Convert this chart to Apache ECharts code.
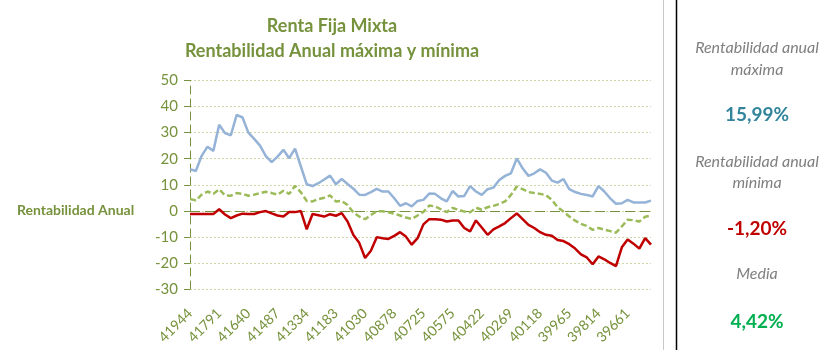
<!DOCTYPE html>
<html>
<head>
<meta charset="utf-8">
<script src="https://cdn.jsdelivr.net/npm/echarts@6/dist/echarts.min.js"></script>
<style>
html,body{margin:0;padding:0;background:#fff;}
#c{width:833px;height:350px;}
</style>
</head>
<body>
<div id="c"></div>
<script>
var categories = [41944,41913,41883,41852,41821,41791,41760,41730,41699,41671,
41640,41609,41579,41548,41518,41487,41456,41426,41395,41365,
41334,41306,41275,41244,41214,41183,41153,41122,41091,41061,
41030,41000,40969,40940,40909,40878,40848,40817,40787,40756,
40725,40695,40664,40634,40603,40575,40544,40513,40483,40452,
40422,40391,40360,40330,40299,40269,40238,40210,40179,40148,
40118,40087,40057,40026,39995,39965,39934,39904,39873,39845,
39814,39783,39753,39722,39692,39661,39630,39600,39569,39539];

var maxima = [16.0,15.3,21.1,24.6,23.0,33.0,29.8,29.0,36.8,35.8,
30.0,27.6,25.0,21.0,18.7,20.8,23.4,20.2,23.9,17.0,
10.2,9.5,10.6,12.0,13.5,10.2,12.2,10.3,8.5,6.2,
6.1,7.2,8.4,7.4,7.4,4.8,1.9,2.9,1.7,3.8,
4.2,6.6,6.5,4.8,3.6,7.6,5.5,5.7,9.5,7.4,
6.1,8.3,8.9,11.8,13.4,14.4,20.1,16.3,13.4,14.4,
15.9,14.6,11.6,10.8,12.2,8.3,7.2,6.5,6.1,5.5,
9.5,7.4,4.8,2.7,2.9,4.2,3.2,3.2,3.2,3.9];

var media = [4.5,4.0,6.2,7.4,6.5,8.3,5.9,5.8,6.8,6.5,
5.8,6.2,6.8,7.3,6.8,6.2,7.7,6.5,9.6,7.1,
3.8,3.6,4.5,5.0,5.9,3.6,3.8,2.2,-0.6,-2.2,
-3.2,-1.6,-0.2,-0.2,-0.6,-1.1,-1.8,-2.6,-3.1,-1.8,
-0.4,2.0,1.7,0.6,-0.5,1.1,0.4,-0.3,-0.6,1.2,
0.4,1.4,1.9,2.6,3.6,6.1,9.3,8.3,7.2,6.8,
6.5,6.0,4.2,1.4,-0.3,-2.2,-3.8,-5.0,-5.8,-7.3,
-6.6,-7.2,-7.8,-8.4,-6.0,-3.4,-3.6,-4.1,-2.3,-1.8];

var minima = [-1.2,-1.2,-1.2,-1.2,-1.2,0.6,-1.4,-2.8,-1.8,-1.1,
-1.2,-1.2,-0.5,-0.1,-1.0,-1.8,-2.2,-0.5,-0.5,-0.1,
-7.1,-1.2,-1.7,-2.2,-1.3,-1.9,-0.9,-4.1,-9.3,-12.3,
-18.1,-15.3,-10.1,-10.5,-10.8,-9.6,-8.2,-9.9,-13.0,-10.5,
-5.2,-3.2,-3.2,-3.4,-4.1,-3.7,-3.7,-6.6,-7.9,-3.7,
-6.4,-9.2,-7.1,-6.0,-4.7,-2.8,-1.0,-3.2,-5.4,-6.6,
-8.2,-9.2,-9.6,-11.2,-11.6,-12.8,-14.5,-16.7,-17.9,-20.5,
-17.5,-18.6,-20.0,-21.2,-14.0,-11.0,-12.6,-14.5,-10.5,-13.0];

var titleLines = ['Renta Fija Mixta', 'Rentabilidad Anual máxima y mínima'];
var yTitle = 'Rentabilidad Anual';
var panelMaxLabel = ['Rentabilidad anual', 'máxima'];
var panelMaxValue = '15,99%';
var panelMinLabel = ['Rentabilidad anual', 'mínima'];
var panelMinValue = '-1,20%';
var panelMeanLabel = 'Media';
var panelMeanValue = '4,42%';

var FONT = 'Lato';
var OLIVE = '#76923C';
var GREY = '#7F7F7F';

var chart = echarts.init(document.getElementById('c'), null, {renderer: 'canvas'});

function panelText(txt, y, size, color, bold, italic) {
  return {
    type: 'text', x: 757, y: y,
    style: {
      text: txt, x: 0, y: 0, align: 'center', verticalAlign: 'middle',
      fill: color, font: (italic ? 'italic ' : '') + (bold ? 'bold ' : '') + size + 'px ' + FONT
    }
  };
}

var option = {
  backgroundColor: '#ffffff',
  animation: false,
  textStyle: {fontFamily: FONT},
  title: {
    text: titleLines.join('\n'),
    left: 327, top: 9, textAlign: 'center',
    textStyle: {color: OLIVE, fontWeight: 'bold', fontSize: 18, fontFamily: FONT, lineHeight: 25}
  },
  grid: {left: 190, right: 182, top: 80.5, bottom: 61, containLabel: false},
  xAxis: {
    type: 'category',
    data: categories,
    boundaryGap: false,
    axisLine: {show: false},
    axisTick: {show: false},
    axisLabel: {
      interval: 4, rotate: 45, margin: 22,
      color: OLIVE, fontSize: 14, fontFamily: FONT
    },
    splitLine: {show: false}
  },
  yAxis: {
    type: 'value',
    min: -30, max: 50, interval: 10,
    axisLine: {show: true, lineStyle: {color: OLIVE, type: [8, 5], width: 1}},
    axisTick: {show: true, length: 6, lineStyle: {color: OLIVE}},
    axisLabel: {color: OLIVE, fontSize: 15, fontFamily: FONT, margin: 12},
    splitLine: {show: true, lineStyle: {color: '#CFD7A8', type: [2, 2], width: 1}}
  },
  series: [
    {
      name: 'Máxima', type: 'line', data: maxima, symbol: 'none',
      lineStyle: {color: '#95B3D7', width: 2.5}, z: 3
    },
    {
      name: 'Media', type: 'line', data: media, symbol: 'none',
      lineStyle: {color: '#9BBB59', width: 2.5, type: [6, 3]}, z: 4
    },
    {
      name: 'Mínima', type: 'line', data: minima, symbol: 'none',
      lineStyle: {color: '#C00000', width: 2.5}, z: 5,
      markLine: {
        silent: true, symbol: 'none', label: {show: false},
        lineStyle: {color: OLIVE, type: [10, 5], width: 1},
        data: [{yAxis: 0}], z: 2
      }
    }
  ],
  graphic: [
    {
      type: 'text', x: 17, y: 210,
      style: {text: yTitle, fill: OLIVE, font: 'bold 14px ' + FONT, verticalAlign: 'middle'}
    },
    {type: 'line', shape: {x1: 663.5, y1: 0, x2: 663.5, y2: 350}, style: {stroke: '#C8C8C8', lineWidth: 1}},
    {type: 'line', shape: {x1: 676.5, y1: 0, x2: 676.5, y2: 350}, style: {stroke: '#000000', lineWidth: 1.5}},
    panelText(panelMaxLabel[0], 48, 16, GREY, false, true),
    panelText(panelMaxLabel[1], 70, 16, GREY, false, true),
    panelText(panelMaxValue, 115, 19, '#31849B', true, false),
    panelText(panelMinLabel[0], 162, 16, GREY, false, true),
    panelText(panelMinLabel[1], 183, 16, GREY, false, true),
    panelText(panelMinValue, 229, 19, '#C00000', true, false),
    panelText(panelMeanLabel, 274, 16, GREY, false, true),
    panelText(panelMeanValue, 322, 19, '#00B050', true, false)
  ]
};
chart.setOption(option);
</script>
</body>
</html>
